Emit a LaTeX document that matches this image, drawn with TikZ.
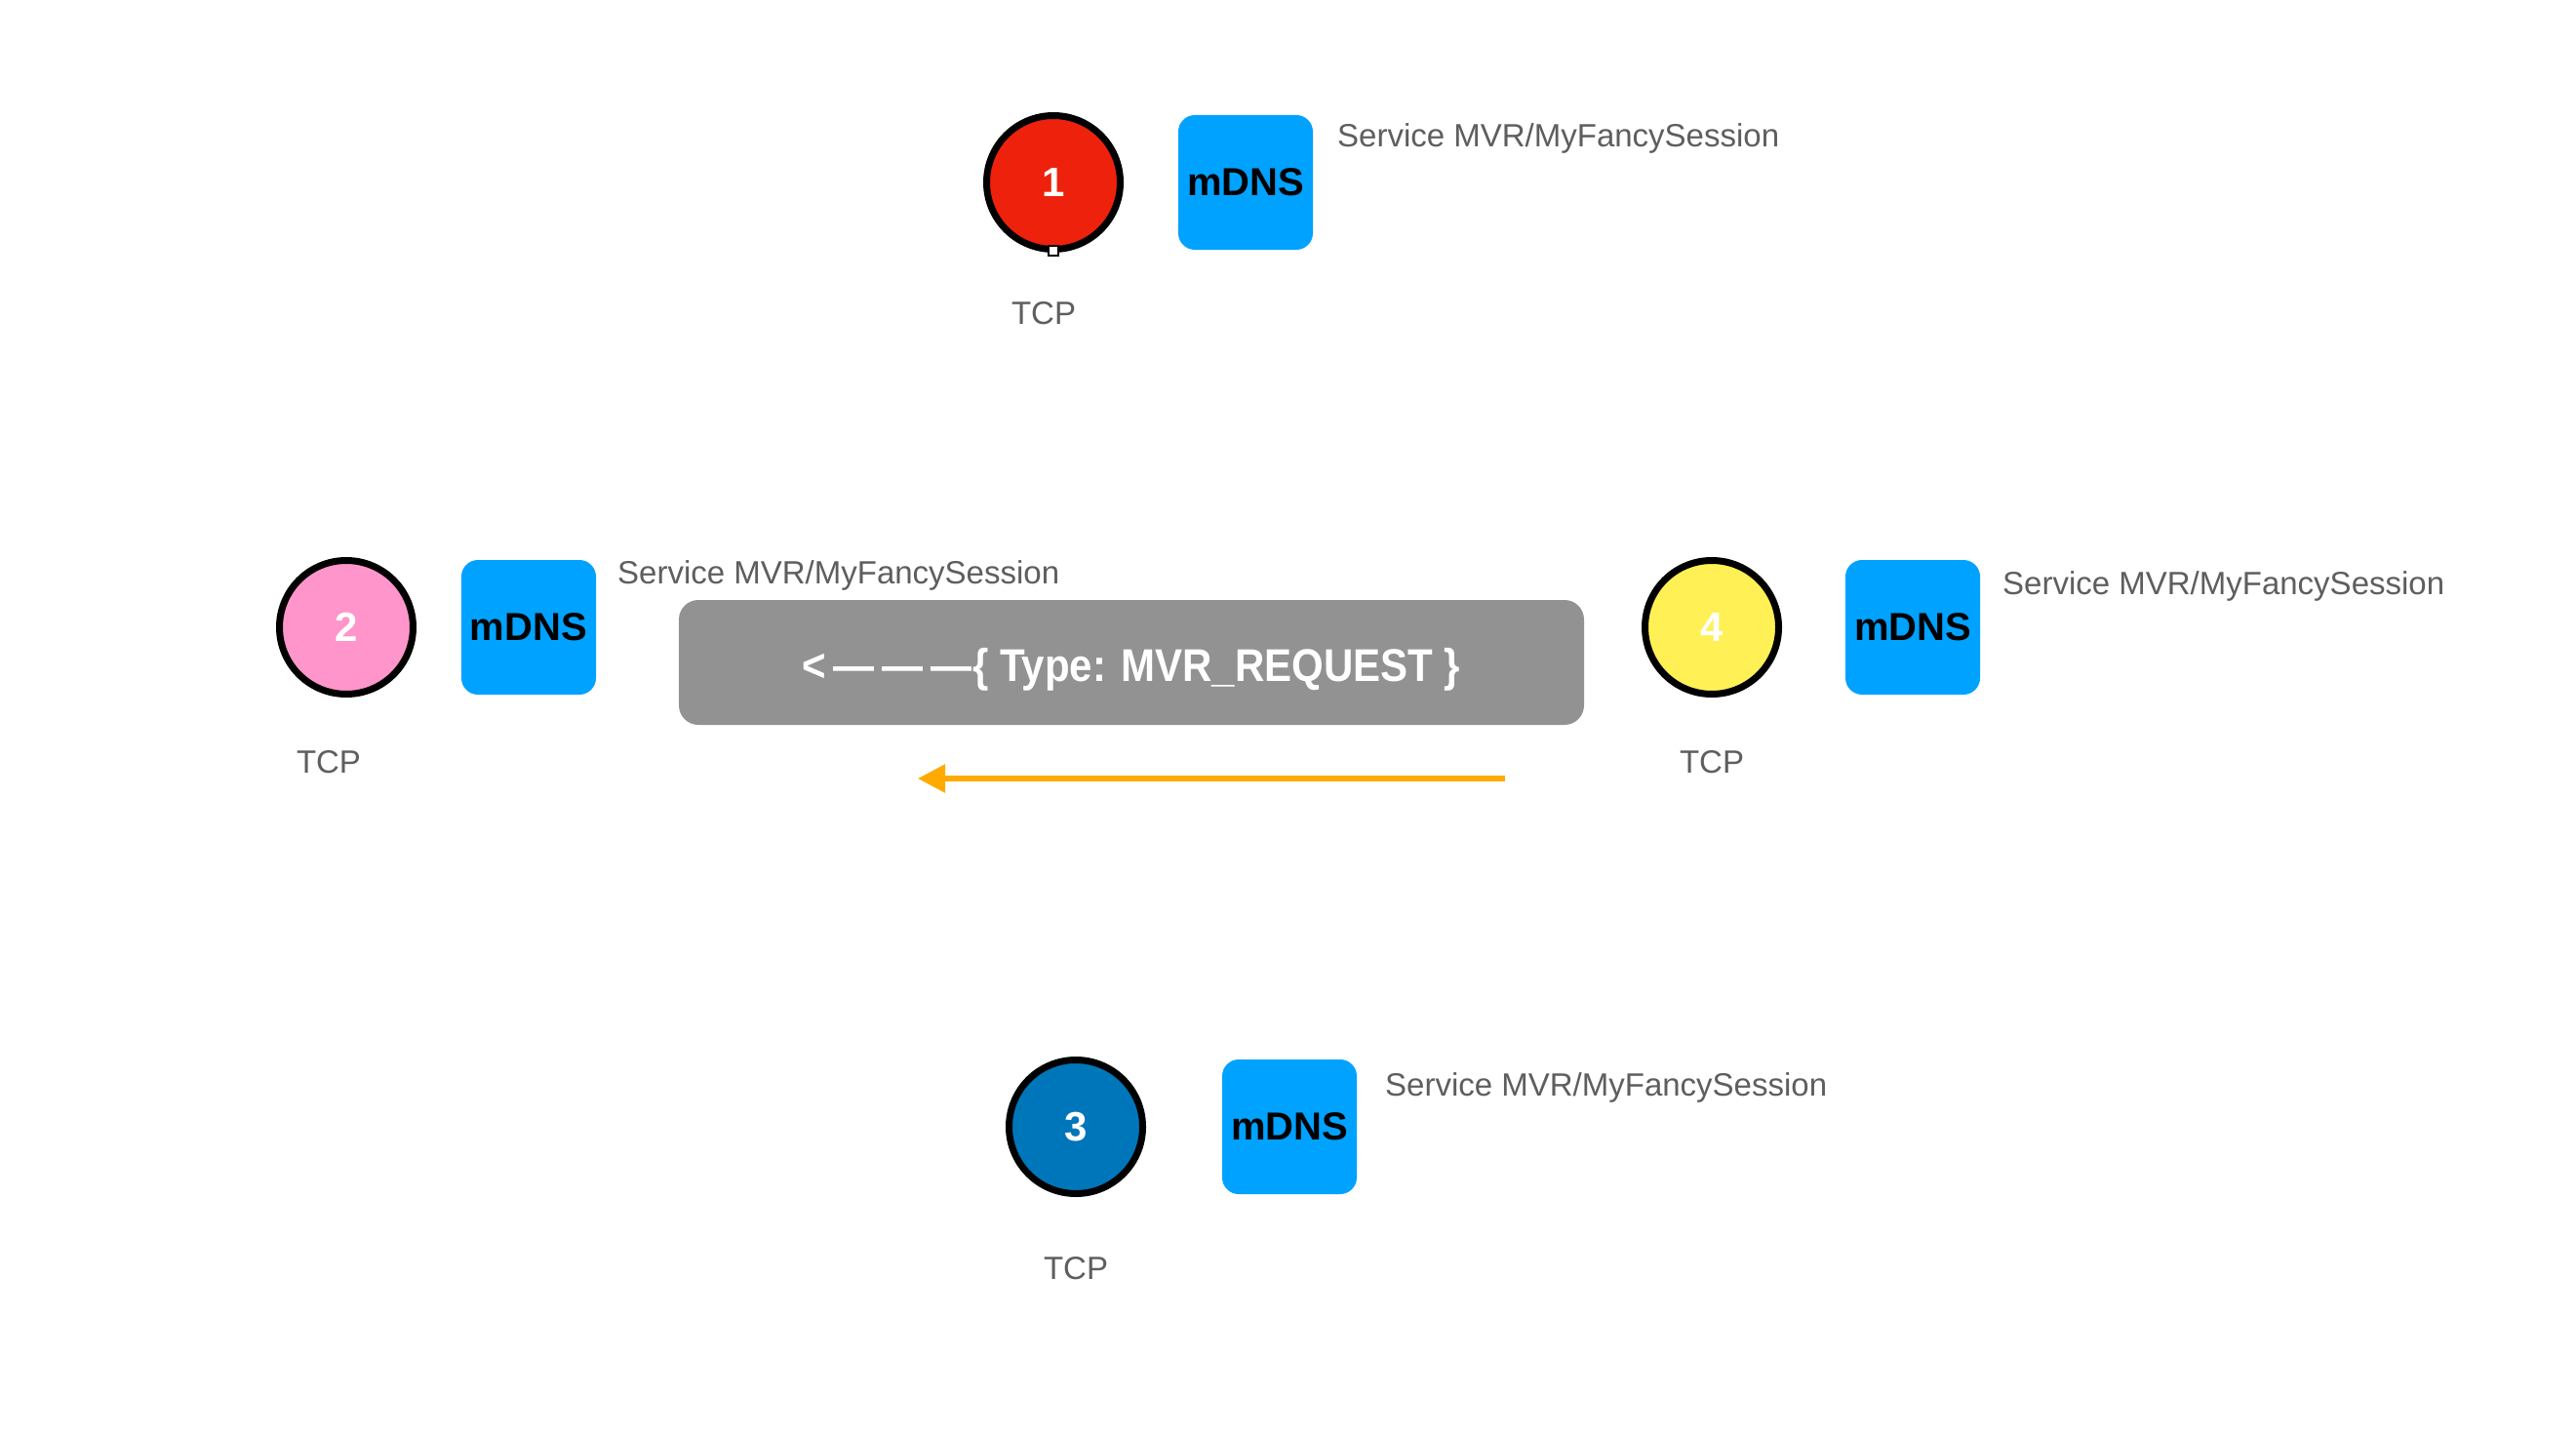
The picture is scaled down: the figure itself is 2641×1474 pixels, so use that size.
\documentclass[tikz,border=0pt]{standalone}
\usepackage{fontspec}
\setmainfont{Liberation Sans}
\usetikzlibrary{arrows.meta}
\definecolor{hostred}{HTML}{EE220C}
\definecolor{hostpink}{HTML}{FF95CA}
\definecolor{hostyellow}{HTML}{FFF056}
\definecolor{hostblue}{HTML}{0076BA}
\definecolor{mdnsblue}{HTML}{00A2FF}
\definecolor{boxgrey}{HTML}{929292}
\definecolor{txtgrey}{HTML}{5E5E5E}
\definecolor{arroworange}{HTML}{FFAA00}
\begin{document}
\begin{tikzpicture}[x=1pt,y=-1pt,
  host/.style={circle, draw=black, line width=7pt, minimum size=137pt, inner sep=0pt,
    text=white, font=\bfseries\fontsize{42}{50}\selectfont},
  mdns/.style={rectangle, rounded corners=17pt, fill=mdnsblue, minimum size=138pt,
    inner sep=0pt, text=black, font=\bfseries\fontsize{40}{48}\selectfont},
  lbl/.style={text=txtgrey, font=\fontsize{33}{40}\selectfont, inner sep=0pt},
  msgbox/.style={rectangle, rounded corners=20pt, fill=boxgrey, minimum width=928pt,
    minimum height=128pt, inner sep=0pt, text=white, font=\bfseries\fontsize{42}{50}\selectfont},
  flow/.style={draw=arroworange, line width=5.5pt, -{Triangle[length=28pt,width=28pt]}},
]
\useasboundingbox (0,0) rectangle (2641,1474);

% host 1
\node[host, fill=hostred] (h1) at (1080,187) {1};
\node[mdns] (m1) at (1277,187) {mDNS};
\node[lbl, anchor=west] (s1) at (1371,142) {Service MVR/MyFancySession};
\node[lbl] (t1) at (1070,321) {TCP};
\node[draw=black, fill=white, line width=1.5pt, minimum size=10pt, inner sep=0pt] (handle) at (1080,257) {};

% host 2
\node[host, fill=hostpink] (h2) at (355,643) {2};
\node[mdns] (m2) at (542,643) {mDNS};
\node[lbl, anchor=west] (s2) at (633,590) {Service MVR/MyFancySession};
\node[lbl] (t2) at (337,781) {TCP};

% host 4
\node[host, fill=hostyellow] (h4) at (1755,643) {4};
\node[mdns] (m4) at (1961,643) {mDNS};
\node[lbl, anchor=west] (s4) at (2053,601) {Service MVR/MyFancySession};
\node[lbl] (t4) at (1755,781) {TCP};

% host 3
\node[host, fill=hostblue] (h3) at (1103,1155) {3};
\node[mdns] (m3) at (1322,1155) {mDNS};
\node[lbl, anchor=west] (s3) at (1420,1115) {Service MVR/MyFancySession};
\node[lbl] (t3) at (1103,1300) {TCP};

% message
\node[msgbox] (msg) at (1160,679) {};
\node[text=white, font=\bfseries\fontsize{42}{50}\selectfont, inner sep=0pt] (msgtext) at (1160,686)
  {\scalebox{1}[1.12]{<\kern7pt—\kern8pt—\kern8pt—\kern1pt\{ Type: MVR\_REQUEST \}}};

\coordinate (as) at (1543,798);
\coordinate (ae) at (941,798);
\draw[flow] (as) -- (ae);
\end{tikzpicture}
\end{document}
